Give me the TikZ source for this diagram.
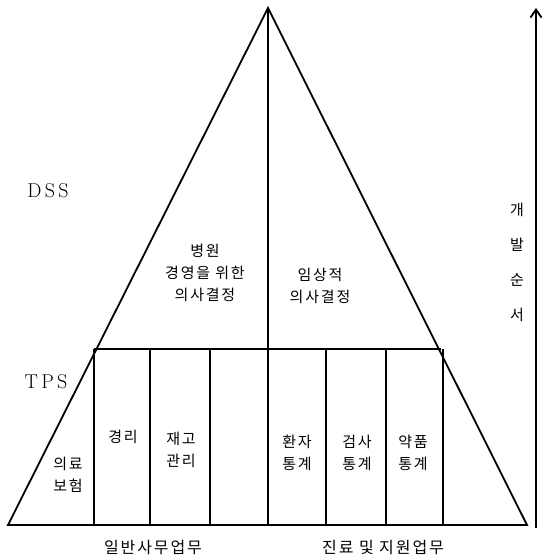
\documentclass[tikz,border=0pt]{standalone}
\usepackage{fontspec}
\newfontfamily\kr[LetterSpace=12]{Noto Sans CJK KR}
\usetikzlibrary{arrows.meta}
\begin{document}
\begin{tikzpicture}[x=1pt,y=-1pt,
  edge/.style={line width=1.8pt,line join=miter},
  kt/.style={font=\kr\fontsize{15}{22}\selectfont,align=center,inner sep=0pt},
  bt/.style={font=\kr\fontsize{16}{22}\selectfont,align=center,inner sep=0pt},
  lt/.style={font=\fontsize{20}{22}\selectfont,inner sep=0pt}]
\useasboundingbox (0,0) rectangle (545,559);
% main outline
\coordinate (apex) at (268,8);
\coordinate (bl) at (8,525);
\coordinate (br) at (527,525);
\coordinate (hl) at (94,349);
\coordinate (hr) at (441,349);
\draw[edge] (apex) -- (bl) -- (br) -- cycle;
\draw[edge] (hl) -- (hr);
\draw[edge] (apex) -- (268,525);
\foreach \x in {94,150,210,326,386,443}{
  \draw[edge] (\x,349) -- (\x,525);
}
% arrow
\coordinate (as) at (536,528);
\coordinate (ae) at (536,8);
\draw[line width=1.8pt,-{Straight Barb[length=8pt,width=11pt,line width=1.8pt]}] (as) -- (ae);
% labels
\node[lt] (dss) at (48,191) {D\,S\,S};
\node[lt] (tps) at (46,382) {T\,P\,S};
\node[kt] (byeong) at (205,273) {병원\\경영을 위한\\의사결정};
\node[kt] (imsang) at (320,286) {임상적\\의사결정};
\node[kt] (uiryo) at (68,475) {의료\\보험};
\node[kt] (gyeongri) at (123,437) {경리};
\node[kt] (jaego) at (181,450) {재고\\관리};
\node[kt] (hwanja) at (297,453) {환자\\통계};
\node[kt] (geomsa) at (357,453) {검사\\통계};
\node[kt] (yakpum) at (413,453) {약품\\통계};
\node[bt] (ilban) at (153,548) {일반사무업무};
\node[bt] (jinryo) at (383,548) {진료 및 지원업무};
\node[kt,font=\kr\fontsize{15}{35}\selectfont] (gaebal) at (517,262) {개\\발\\순\\서};
\end{tikzpicture}
\end{document}
